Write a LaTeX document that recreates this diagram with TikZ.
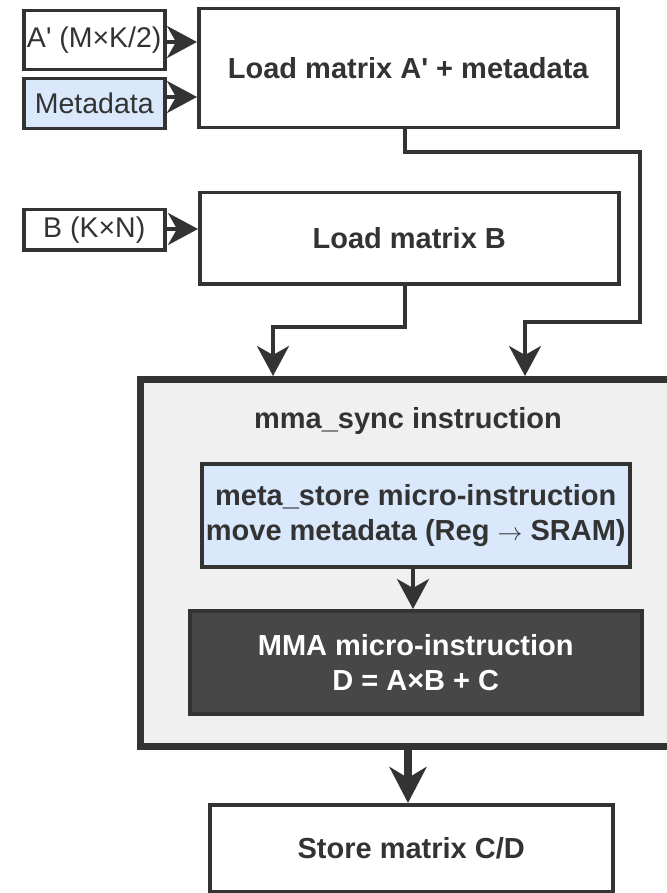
\documentclass[tikz,border=0pt]{standalone}
\usepackage{fontspec}
\setmainfont{Liberation Sans}
\usetikzlibrary{arrows.meta}

\definecolor{ink}{HTML}{333333}
\definecolor{paleblue}{HTML}{DAE8FC}
\definecolor{panel}{HTML}{F0F0F0}
\definecolor{darkbox}{HTML}{474747}

\begin{document}
\begin{tikzpicture}[x=1pt,y=-1pt,
  box/.style={draw=ink, line width=3.5pt, text=ink, inner sep=0pt,
    anchor=north west, align=center},
  inbox/.style={box, font=\fontsize{28.5}{33}\selectfont},
  stepbox/.style={box, font=\bfseries\fontsize{29}{35}\selectfont},
  conn/.style={draw=ink, line width=4pt,
    -{Stealth[length=30pt, width=32pt, inset=9pt]}},
  bigconn/.style={draw=ink, line width=7.5pt,
    -{Stealth[length=36pt, width=37pt, inset=11pt]}}
]
\useasboundingbox (0,0) rectangle (666,893);

% inputs
\node[inbox, minimum width=141pt, minimum height=59pt] (aprime) at (22,9) {A\textquotesingle{} (M×K/2)};
\node[inbox, fill=paleblue, minimum width=141pt, minimum height=50pt] (meta) at (22,77) {Metadata};
\node[inbox, minimum width=141pt, minimum height=40pt] (bin) at (22,208) {B (K×N)};

% load steps
\node[stepbox, minimum width=419pt, minimum height=119pt] (loadA) at (197,7) {Load matrix A\textquotesingle{} + metadata};
\node[stepbox, minimum width=419pt, minimum height=91pt] (loadB) at (198,191) {Load matrix B};

% mma_sync panel
\node[draw=ink, fill=panel, line width=6.5pt, anchor=north west, inner sep=0pt,
  minimum width=540pt, minimum height=367pt] (outer) at (137,376) {};
\node[text=ink, font=\bfseries\fontsize{29}{35}\selectfont] (title) at (408,421) {mma\_sync instruction};
\node[stepbox, fill=paleblue, minimum width=428pt, minimum height=103pt] (metastore) at (200,462)
  {meta\_store micro-instruction\\move metadata (Reg $\rightarrow$ SRAM)};
\node[stepbox, fill=darkbox, text=white, minimum width=452pt, minimum height=103pt] (mmabox) at (188,609)
  {MMA micro-instruction\\D = A×B + C};

% store step
\node[stepbox, minimum width=403pt, minimum height=87pt] (store) at (208,803) {Store matrix C/D};

% connectors
\draw[conn] (aprime.east |- 0,42) -- (loadA.west |- 0,42);
\draw[conn] (meta.east |- 0,97) -- (loadA.west |- 0,97);
\draw[conn] (bin.east |- 0,229) -- (loadB.west |- 0,229);
\draw[conn] (loadA.south -| 405,0) -- (405,152) -- (640,152) -- (640,322) -- (525,322) -- (outer.north -| 525,0);
\draw[conn] (loadB.south -| 405,0) -- (405,327) -- (273,327) -- (outer.north -| 273,0);
\draw[conn] (metastore.south -| 413,0) -- (mmabox.north -| 413,0);
\draw[bigconn] (outer.south -| 408,0) -- (store.north -| 408,0);
\end{tikzpicture}
\end{document}
